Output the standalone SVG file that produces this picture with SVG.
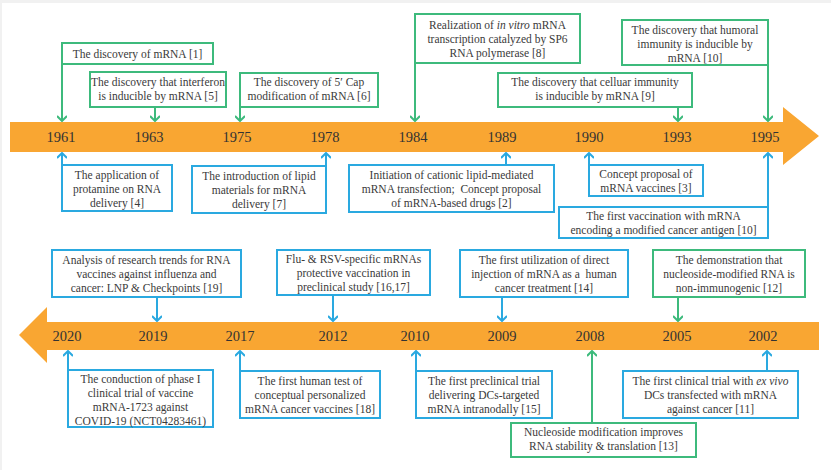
<svg xmlns="http://www.w3.org/2000/svg" width="831" height="470" viewBox="0 0 831 470">
<defs>
<style>
.t{font-family:'Liberation Serif','DejaVu Serif',serif;font-size:11.5px;fill:#3a3a3a;text-anchor:middle}
.y{font-family:'Liberation Serif','DejaVu Serif',serif;font-size:14.5px;fill:#333;text-anchor:middle}
.g{fill:#fff;stroke:#3dba7c;stroke-width:2}
.b{fill:#fff;stroke:#2aa9e0;stroke-width:2}
.gl{stroke:#3dba7c;stroke-width:2;fill:none}
.bl{stroke:#2aa9e0;stroke-width:2;fill:none}
</style>
<marker id="ag" viewBox="0 0 10 10" refX="9" refY="5" markerWidth="10" markerHeight="10" markerUnits="userSpaceOnUse" orient="auto">
<path d="M4,0 L9,5 L4,10" fill="none" stroke="#3dba7c" stroke-width="2"/>
</marker>
<marker id="ab" viewBox="0 0 10 10" refX="9" refY="5" markerWidth="10" markerHeight="10" markerUnits="userSpaceOnUse" orient="auto">
<path d="M4,0 L9,5 L4,10" fill="none" stroke="#2aa9e0" stroke-width="2"/>
</marker>
</defs>
<rect x="0" y="0" width="831" height="470" fill="#f1f1f1"/>
<rect x="2" y="3" width="829" height="467" fill="#ffffff"/>

<g id="band-top">
<path d="M10,122 L783,122 L783,107 L819,136 L783,165 L783,152 L10,152 Z" fill="#f9a632"/>
<text class="y" x="61" y="142">1961</text>
<text class="y" x="149" y="142">1963</text>
<text class="y" x="237" y="142">1975</text>
<text class="y" x="325" y="142">1978</text>
<text class="y" x="413" y="142">1984</text>
<text class="y" x="502" y="142">1989</text>
<text class="y" x="589" y="142">1990</text>
<text class="y" x="677" y="142">1993</text>
<text class="y" x="765" y="142">1995</text>
</g>

<g id="band-bottom">
<path d="M819,322 L47,322 L47,307 L19,335 L47,363 L47,350 L819,350 Z" fill="#f9a632"/>
<text class="y" x="67" y="341">2020</text>
<text class="y" x="153" y="341">2019</text>
<text class="y" x="240" y="341">2017</text>
<text class="y" x="333" y="341">2012</text>
<text class="y" x="415" y="341">2010</text>
<text class="y" x="502" y="341">2009</text>
<text class="y" x="590" y="341">2008</text>
<text class="y" x="677" y="341">2005</text>
<text class="y" x="763" y="341">2002</text>
</g>

<g id="connectors">
<line class="gl" x1="62" y1="64" x2="62" y2="121" marker-end="url(#ag)"/>
<line class="gl" x1="155" y1="107" x2="155" y2="121" marker-end="url(#ag)"/>
<line class="gl" x1="240" y1="107" x2="240" y2="121" marker-end="url(#ag)"/>
<line class="gl" x1="415" y1="63" x2="415" y2="121" marker-end="url(#ag)"/>
<line class="gl" x1="678" y1="107" x2="678" y2="121" marker-end="url(#ag)"/>
<line class="gl" x1="768" y1="65" x2="768" y2="121" marker-end="url(#ag)"/>
<line class="bl" x1="62" y1="165" x2="62" y2="153" marker-end="url(#ab)"/>
<line class="bl" x1="326" y1="166" x2="326" y2="153" marker-end="url(#ab)"/>
<line class="bl" x1="506" y1="165" x2="506" y2="153" marker-end="url(#ab)"/>
<line class="bl" x1="589" y1="165" x2="589" y2="153" marker-end="url(#ab)"/>
<line class="bl" x1="768" y1="207" x2="768" y2="153" marker-end="url(#ab)"/>
<line class="bl" x1="157" y1="297" x2="157" y2="321" marker-end="url(#ab)"/>
<line class="bl" x1="333" y1="295" x2="333" y2="321" marker-end="url(#ab)"/>
<line class="bl" x1="502" y1="297" x2="502" y2="321" marker-end="url(#ab)"/>
<line class="gl" x1="678" y1="297" x2="678" y2="321" marker-end="url(#ag)"/>
<line class="bl" x1="68" y1="370" x2="68" y2="351" marker-end="url(#ab)"/>
<line class="bl" x1="240" y1="371" x2="240" y2="351" marker-end="url(#ab)"/>
<line class="bl" x1="416" y1="371" x2="416" y2="351" marker-end="url(#ab)"/>
<line class="gl" x1="592" y1="423" x2="592" y2="351" marker-end="url(#ag)"/>
<line class="bl" x1="767" y1="371" x2="767" y2="351" marker-end="url(#ab)"/>
</g>

<g id="n1"><rect class="g" x="62" y="43" width="151" height="21"/>
<text class="t" x="137.5" y="58">The discovery of mRNA [1]</text></g>
<g id="n5"><rect class="g" x="90" y="72" width="136" height="35"/>
<text class="t" x="158" y="86">The discovery that interferon</text>
<text class="t" x="158" y="100">is inducible by mRNA [5]</text></g>
<g id="n6"><rect class="g" x="240" y="73" width="138" height="34"/>
<text class="t" x="309" y="86">The discovery of 5′ Cap</text>
<text class="t" x="309" y="100">modification of mRNA [6]</text></g>
<g id="n8"><rect class="g" x="415" y="14" width="165" height="49"/>
<text class="t" x="497.5" y="29">Realization of <tspan font-style="italic">in vitro</tspan> mRNA</text>
<text class="t" x="497.5" y="43">transcription catalyzed by SP6</text>
<text class="t" x="497.5" y="57">RNA polymerase [8]</text></g>
<g id="n9"><rect class="g" x="498" y="73" width="194" height="34"/>
<text class="t" x="595" y="86">The discovery that celluar immunity</text>
<text class="t" x="595" y="100">is inducible by mRNA [9]</text></g>
<g id="n10a"><rect class="g" x="622" y="20" width="146" height="45"/>
<text class="t" x="695" y="34">The discovery that humoral</text>
<text class="t" x="695" y="48">immunity is inducible by</text>
<text class="t" x="695" y="62">mRNA [10]</text></g>

<g id="n4"><rect class="b" x="62" y="165" width="110" height="46"/>
<text class="t" x="117" y="179">The application of</text>
<text class="t" x="117" y="193">protamine on RNA</text>
<text class="t" x="117" y="207">delivery [4]</text></g>
<g id="n7"><rect class="b" x="192" y="166" width="134" height="47"/>
<text class="t" x="259" y="180">The introduction of lipid</text>
<text class="t" x="259" y="194">materials for mRNA</text>
<text class="t" x="259" y="208">delivery [7]</text></g>
<g id="n2"><rect class="b" x="349" y="165" width="205" height="47"/>
<text class="t" x="451.5" y="179">Initiation of cationic lipid-mediated</text>
<text class="t" x="451.5" y="193" xml:space="preserve">mRNA transfection;  Concept proposal</text>
<text class="t" x="451.5" y="207">of mRNA-based drugs [2]</text></g>
<g id="n3"><rect class="b" x="589" y="165" width="114" height="31"/>
<text class="t" x="646" y="178">Concept proposal of</text>
<text class="t" x="646" y="192">mRNA vaccines [3]</text></g>
<g id="n10b"><rect class="b" x="559" y="207" width="209" height="31"/>
<text class="t" x="663.5" y="220">The first vaccination with mRNA</text>
<text class="t" x="663.5" y="234">encoding a modified cancer antigen [10]</text></g>

<g id="n19"><rect class="b" x="52" y="250" width="189" height="47"/>
<text class="t" x="146.5" y="264">Analysis of research trends for RNA</text>
<text class="t" x="146.5" y="278">vaccines against influenza and</text>
<text class="t" x="146.5" y="292">cancer: LNP &amp; Checkpoints [19]</text></g>
<g id="n16"><rect class="b" x="277" y="250" width="153" height="45"/>
<text class="t" x="353.5" y="263">Flu- &amp; RSV-specific mRNAs</text>
<text class="t" x="353.5" y="277">protective vaccination in</text>
<text class="t" x="353.5" y="291">preclinical study [16,17]</text></g>
<g id="n14"><rect class="b" x="460" y="250" width="168" height="47"/>
<text class="t" x="544" y="264">The first utilization of direct</text>
<text class="t" x="544" y="278" xml:space="preserve">injection of mRNA as a  human</text>
<text class="t" x="544" y="292">cancer treatment [14]</text></g>
<g id="n12"><rect class="g" x="653" y="250" width="152" height="47"/>
<text class="t" x="729" y="264">The demonstration that</text>
<text class="t" x="729" y="278">nucleoside-modified RNA is</text>
<text class="t" x="729" y="292">non-immunogenic [12]</text></g>

<g id="nC19"><rect class="b" x="68" y="370" width="145" height="57"/>
<text class="t" x="140.5" y="383">The conduction of phase I</text>
<text class="t" x="140.5" y="397">clinical trial of vaccine</text>
<text class="t" x="140.5" y="411">mRNA-1723 against</text>
<text class="t" x="140.5" y="425">COVID-19 (NCT04283461)</text></g>
<g id="n18"><rect class="b" x="240" y="371" width="140" height="47"/>
<text class="t" x="310" y="385">The first human test of</text>
<text class="t" x="310" y="399">conceptual personalized</text>
<text class="t" x="310" y="413">mRNA cancer vaccines [18]</text></g>
<g id="n15"><rect class="b" x="416" y="371" width="136" height="47"/>
<text class="t" x="484" y="385">The first preclinical trial</text>
<text class="t" x="484" y="399">delivering DCs-targeted</text>
<text class="t" x="484" y="413">mRNA intranodally [15]</text></g>
<g id="n13"><rect class="g" x="511" y="423" width="185" height="34"/>
<text class="t" x="603.5" y="436">Nucleoside modification improves</text>
<text class="t" x="603.5" y="450">RNA stability &amp; translation [13]</text></g>
<g id="n11"><rect class="b" x="623" y="371" width="175" height="47"/>
<text class="t" x="710.5" y="385">The first clinical trial with <tspan font-style="italic">ex vivo</tspan></text>
<text class="t" x="710.5" y="399">DCs transfected with mRNA</text>
<text class="t" x="710.5" y="413">against cancer [11]</text></g>
</svg>
